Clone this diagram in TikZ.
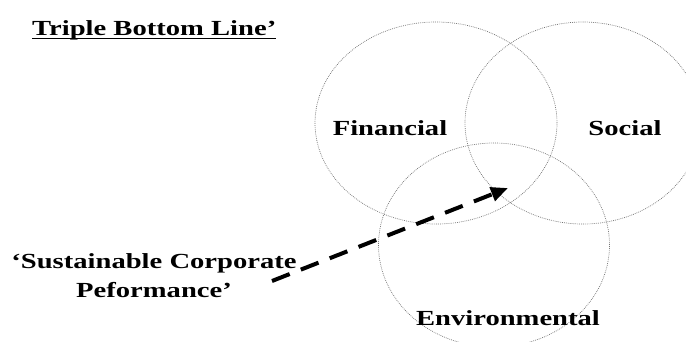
\documentclass[tikz,border=0pt]{standalone}
\usepackage{fontspec}
\setmainfont{Liberation Serif}
\usepackage{tikz}
\usetikzlibrary{positioning,shapes.geometric,arrows.meta}

\newcommand{\wide}[1]{\scalebox{1.33}[1]{#1}}

\begin{document}
\begin{tikzpicture}[x=1pt, y=-1pt,
    ring/.style={ellipse, draw=black!55, line width=0.7pt, dash pattern=on 0.8pt off 1.1pt, inner sep=0pt},
    lbl/.style={font=\fontsize{21.5}{29}\selectfont\bfseries, inner sep=0pt, anchor=base}]
        \useasboundingbox (0,0) rectangle (686,341);
        \clip (0,0) rectangle (686,341);

        \node[ring, minimum width=242pt, minimum height=202pt] (fin) at (436,123) {};
        \node[ring, minimum width=236pt, minimum height=202pt] (soc) at (583,123) {};
        \node[ring, minimum width=231pt, minimum height=204pt] (env) at (494,245) {};

        \node[lbl, anchor=base west] (title) at (32,35) {\wide{Triple Bottom Line'}};
        \node[lbl] (finL) at (390,135) {\wide{Financial}};
        \node[lbl] (socL) at (625,135) {\wide{Social}};
        \node[lbl] (envL) at (508,325) {\wide{Environmental}};
        \node[lbl, align=center, anchor=north] (perf) at (154,253) {\wide{`Sustainable Corporate}\\ \wide{Peformance'}};

        \draw[line width=1.8pt] ([yshift=-3.5pt]title.base west) -- ([yshift=-3.5pt]title.base east);

        \coordinate (from) at (272,281);
        \coordinate (to) at (508,188);

        \draw[line width=4pt, dash pattern=on 19pt off 12pt, -{Triangle[length=17pt,width=14pt]}] (from) -- (to);
      \end{tikzpicture}
\end{document}
